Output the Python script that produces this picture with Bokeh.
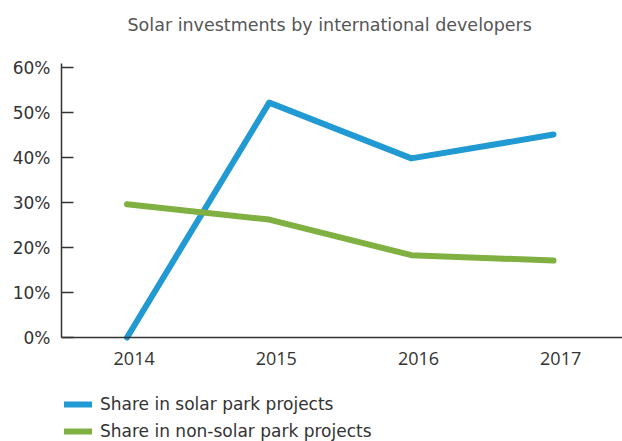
from bokeh.plotting import figure
from bokeh.models import (Legend, LegendItem, FixedTicker, PrintfTickFormatter,
                          NumeralTickFormatter, Range1d)
from bokeh.embed import file_html
from bokeh.resources import INLINE

# ---- data ----
years = [2014, 2015, 2016, 2017]
solar_park = [0.0, 52.2, 39.8, 45.1]
non_solar_park = [29.6, 26.2, 18.3, 17.1]
y_ticks = [0, 10, 20, 30, 40, 50, 60]
title_text = "Solar investments by international developers"
series_labels = ["Share in solar park projects", "Share in non-solar park projects"]

FONT = "DejaVu Sans"
XFONT = "Open Sans"
BLUE = "#2199d3"
GREEN = "#7fb041"
Y_TOP = 60.89
Y_BOTTOM = Y_TOP - 378 / 4.5  # extra room below zero for labels and legend

p = figure(width=622, height=441, output_backend="svg", toolbar_location=None,
           x_range=Range1d(2013.539, 2017.485), y_range=Range1d(Y_BOTTOM, Y_TOP),
           min_border_left=61, min_border_top=63, min_border_right=0,
           min_border_bottom=0, background_fill_color="white",
           border_fill_color="white")

# trailing blank line reserves vertical room so the title sits higher
p.title.text = title_text + "\n "
p.title.align = "left"
p.title.offset = 66
p.title.vertical_align = "top"
p.title.text_font = FONT
p.title.text_font_size = "17.5px"
p.title.text_font_style = "normal"
p.title.text_color = "#555555"
p.title.standoff = 14

p.outline_line_color = None
p.xgrid.visible = False
p.ygrid.visible = False

r1 = p.line(years, solar_park, line_width=6, line_color=BLUE,
            line_cap="round", line_join="round")
r2 = p.line(years, non_solar_park, line_width=6, line_color=GREEN,
            line_cap="round", line_join="round")

xa = p.xaxis[0]
xa.fixed_location = 0
xa.ticker = FixedTicker(ticks=[y + 0.05 for y in years])
xa.formatter = NumeralTickFormatter(format="0")
xa.major_tick_in = 0
xa.major_tick_out = 0
xa.minor_tick_in = 0
xa.minor_tick_out = 0
xa.axis_line_color = "#333333"
xa.axis_line_width = 1.5
xa.major_label_standoff = 14
xa.major_label_text_font = XFONT
xa.major_label_text_font_size = "18px"
xa.major_label_text_color = "#333333"

ya = p.yaxis[0]
ya.bounds = (0, Y_TOP)
ya.ticker = FixedTicker(ticks=y_ticks)
ya.formatter = PrintfTickFormatter(format="%d%%")
ya.major_tick_in = 12
ya.major_tick_out = 0
ya.minor_tick_in = 0
ya.minor_tick_out = 0
ya.major_tick_line_color = "#333333"
ya.major_tick_line_width = 1.5
ya.axis_line_color = "#333333"
ya.axis_line_width = 1.5
ya.major_label_standoff = 11
ya.major_label_text_font = FONT
ya.major_label_text_font_size = "17px"
ya.major_label_text_color = "#333333"

legend = Legend(items=[LegendItem(label=series_labels[0], renderers=[r1]),
                       LegendItem(label=series_labels[1], renderers=[r2])],
                location=(3, 0), orientation="vertical",
                glyph_width=28, glyph_height=20, label_standoff=8,
                label_text_font=FONT, label_text_font_size="17px",
                label_text_color="#333333", spacing=7, padding=0, margin=0,
                border_line_color=None, background_fill_alpha=0)
p.add_layout(legend, "center")

open("out.html", "w").write(file_html(p, INLINE))
